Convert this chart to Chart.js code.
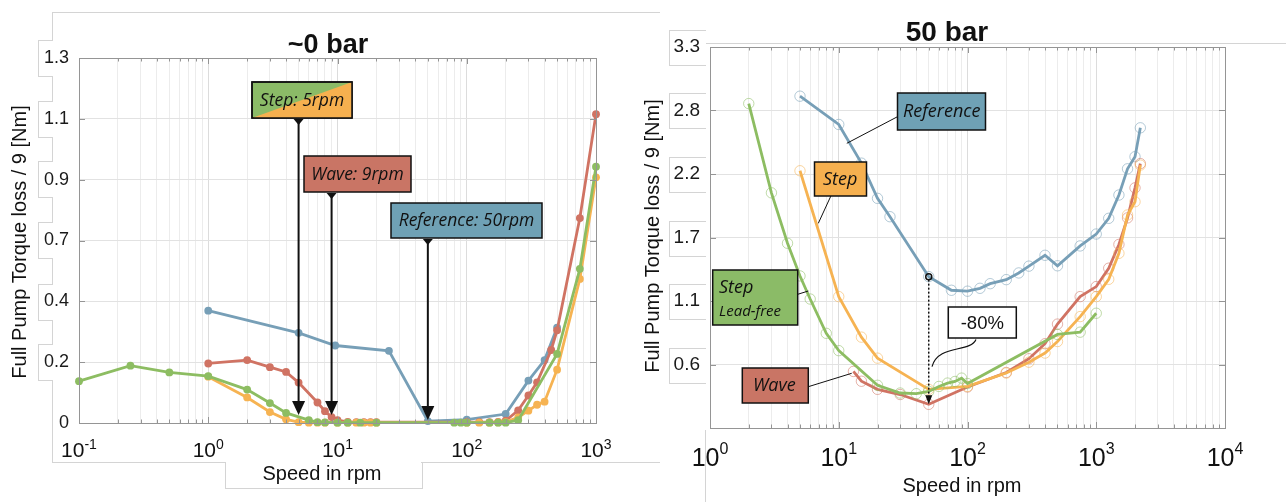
<!DOCTYPE html>
<html>
<head>
<meta charset="utf-8">
<title>Full pump torque loss vs speed</title>
<script src="https://cdn.jsdelivr.net/npm/chart.js@4"></script>
<style>
  body { margin: 0; background: #fff; width: 1286px; height: 502px; overflow: hidden; position: relative; }
  canvas { position: absolute; top: 0; z-index: 1; }
  #chart0 { left: 0; }
  #chart50 { left: 620px; }
  .rule { position: absolute; background: #d4d4d4; z-index: 0; }
  .patch { position: absolute; background: #fff; border: 1px solid #d4d4d4; z-index: 0; }
  .patch.l { border-right: none; }
  .patch.t { border-top: none; }
</style>
</head>
<body>
<!-- pale frames around the pasted axis labels -->
<div class="rule" style="left:52px;top:12px;width:608px;height:1px"></div>
<div class="rule" style="left:52px;top:12px;width:1px;height:450px"></div>
<div class="patch l" style="left:38px;top:40px;width:14px;height:35px"></div>
<div class="patch l" style="left:38px;top:101px;width:14px;height:35px"></div>
<div class="patch l" style="left:38px;top:161px;width:14px;height:35px"></div>
<div class="patch l" style="left:38px;top:222px;width:14px;height:35px"></div>
<div class="patch l" style="left:38px;top:284px;width:14px;height:35px"></div>
<div class="patch l" style="left:38px;top:344px;width:14px;height:35px"></div>
<div class="rule" style="left:52px;top:462px;width:173px;height:1px"></div>
<div class="patch t" style="left:225px;top:462px;width:196px;height:26px"></div>
<div class="rule" style="left:421px;top:462px;width:239px;height:1px"></div>
<div class="rule" style="left:706px;top:43px;width:580px;height:1px"></div>
<div class="patch l" style="left:669px;top:30px;width:36px;height:34px"></div>
<div class="patch l" style="left:669px;top:93px;width:36px;height:34px"></div>
<div class="patch l" style="left:669px;top:157px;width:36px;height:34px"></div>
<div class="patch l" style="left:669px;top:221px;width:36px;height:34px"></div>
<div class="patch l" style="left:669px;top:284px;width:36px;height:34px"></div>
<div class="patch l" style="left:669px;top:348px;width:36px;height:34px"></div>
<div class="rule" style="left:705px;top:430px;width:1px;height:72px"></div>

<canvas id="chart0" width="620" height="502"></canvas>
<canvas id="chart50" width="666" height="502"></canvas>

<script>
// ~0 bar, filled markers
const speedRef0 = [1, 5, 9.6, 25, 50, 100, 200, 300, 400, 500];
const lossRef0 = [0.400, 0.321, 0.276, 0.257, 0.007, 0.012, 0.032, 0.151, 0.224, 0.340];
const speedWave0 = [1, 2, 3, 4, 5, 7, 8, 9, 10, 12, 14, 16, 18, 20, 100, 125, 150, 175, 200, 250, 300, 350, 450, 500, 750, 1000];
const lossWave0 = [0.212, 0.224, 0.199, 0.182, 0.144, 0.073, 0.042, 0.021, 0.010, 0.004, 0.003, 0.003, 0.003, 0.003, 0.003, 0.003, 0.003, 0.004, 0.008, 0.045, 0.098, 0.145, 0.260, 0.330, 0.730, 1.100];
const speedStep0 = [1, 2, 3, 4, 5, 6, 7, 8, 10, 12, 14, 16, 18, 20, 100, 125, 150, 175, 200, 250, 300, 350, 400, 500, 750, 1000];
const lossStep0 = [0.165, 0.091, 0.039, 0.013, 0.003, 0.001, 0.001, 0.001, 0.001, 0.001, 0.001, 0.001, 0.001, 0.001, 0.001, 0.001, 0.001, 0.002, 0.003, 0.020, 0.044, 0.065, 0.076, 0.190, 0.513, 0.875];
const speedFree0 = [0.1, 0.25, 0.5, 1, 2, 3, 4, 6, 7, 8, 10, 12, 15, 20, 80, 90, 100, 150, 175, 200, 250, 500, 750, 1000];
const lossFree0 = [0.149, 0.204, 0.180, 0.167, 0.119, 0.071, 0.036, 0.010, 0.003, 0.002, 0.001, 0.001, 0.001, 0.001, 0.001, 0.001, 0.001, 0.001, 0.001, 0.001, 0.010, 0.246, 0.549, 0.913];

// 50 bar, open markers
const speedRef50 = [5, 10, 15, 20, 25, 50, 75, 100, 125, 150, 200, 250, 300, 400, 500, 750, 1000, 1250, 1500, 1750, 2000, 2200];
const lossRef50 = [2.874, 2.629, 2.294, 1.989, 1.830, 1.311, 1.193, 1.185, 1.210, 1.250, 1.285, 1.343, 1.402, 1.496, 1.405, 1.577, 1.680, 1.816, 2.018, 2.245, 2.350, 2.600];
const speedWave50 = [13, 15, 20, 30, 50, 100, 200, 300, 400, 500, 750, 1000, 1250, 1500, 1750, 2000, 2200];
const lossWave50 = [0.490, 0.405, 0.335, 0.290, 0.205, 0.355, 0.481, 0.600, 0.730, 0.900, 1.138, 1.225, 1.384, 1.590, 1.820, 2.080, 2.290];
const speedStep50 = [5, 10, 15, 20, 50, 100, 200, 300, 400, 500, 750, 1000, 1250, 1500, 1750, 2000, 2200];
const lossStep50 = [2.228, 1.138, 0.787, 0.605, 0.335, 0.360, 0.476, 0.570, 0.649, 0.749, 0.965, 1.138, 1.288, 1.513, 1.845, 1.960, 2.277];
const speedFree50 = [2, 3, 4, 5, 6, 8, 10, 20, 30, 40, 50, 60, 70, 80, 90, 100, 500, 750, 1000];
const lossFree50 = [2.810, 2.037, 1.600, 1.317, 1.117, 0.820, 0.670, 0.370, 0.303, 0.297, 0.317, 0.360, 0.389, 0.403, 0.432, 0.385, 0.810, 0.830, 0.994];

// y tick labels (six equal steps up to the axis maximum)
const yMax0 = 1.3;
const yLabels0 = ['0', '0.2', '0.4', '0.7', '0.9', '1.1', '1.3'];
const yMax50 = 3.3;
const yLabels50 = ['', '0.6', '1.1', '1.7', '2.2', '2.8', '3.3'];

// speeds pointed at in the ~0 bar panel
const arrowSpeeds0 = [5, 9, 50];
const arrowLabels0 = ['Step: 5rpm', 'Wave: 9rpm', 'Reference: 50rpm'];
const dropSpeed50 = 50;
const dropLabel50 = '-80%';

const BLUE = '#779fb7', RED = '#d07363', ORANGE = '#f6b352', GREEN = '#8dbd62';
const BOX_BLUE = '#6fa1b5', BOX_RED = '#c97565', BOX_ORANGE = '#f6b04f', BOX_GREEN = '#8bbb67';
const SANS = '"Liberation Sans", Arial, sans-serif';
const ITAL = '"Open Sans", "Noto Sans", sans-serif';

function fade(hex, a) {
  const n = parseInt(hex.slice(1), 16);
  return 'rgba(' + (n >> 16) + ',' + ((n >> 8) & 255) + ',' + (n & 255) + ',' + a + ')';
}

function series(label, xs, ys, color, order, open) {
  return {
    label: label,
    order: order,
    data: xs.map((x, i) => ({ x: x, y: ys[i] })),
    borderColor: color,
    borderWidth: 2.8,
    pointRadius: open ? 5.2 : 3.9,
    pointBackgroundColor: open ? 'rgba(0,0,0,0)' : color,
    pointBorderColor: open ? fade(color, 0.55) : color,
    pointBorderWidth: open ? 1 : 0,
    tension: 0,
    clip: false
  };
}

// 1..9 x 10^n ticks, decades flagged as major
function logTicks(lo, hi) {
  const out = [];
  for (let e = Math.round(Math.log10(lo)); e <= Math.round(Math.log10(hi)); e++) {
    for (let m = 1; m <= 9; m++) {
      const v = m * Math.pow(10, e);
      if (v >= lo * 0.999 && v <= hi * 1.001) out.push({ value: v, major: m === 1 });
    }
  }
  return out;
}

function gridColor(c) {
  return c.tick && c.tick.major ? '#dcdcdc' : '#ececec';
}

// MATLAB-like box: inward ticks, 10^n labels, titles
const axesLook = {
  id: 'axesLook',
  afterDraw(chart, args, o) {
    const ctx = chart.ctx, a = chart.chartArea;
    const xs = chart.scales.x, ys = chart.scales.y;
    ctx.save();
    ctx.strokeStyle = '#959595';
    ctx.lineWidth = 1;
    ctx.beginPath();
    xs.ticks.forEach(t => {
      const px = Math.round(xs.getPixelForValue(t.value)) + 0.5;
      const len = t.major ? 6 : 3.5;
      ctx.moveTo(px, a.bottom); ctx.lineTo(px, a.bottom - len);
      ctx.moveTo(px, a.top); ctx.lineTo(px, a.top + len);
    });
    ys.ticks.forEach(t => {
      const py = Math.round(ys.getPixelForValue(t.value)) + 0.5;
      ctx.moveTo(a.left, py); ctx.lineTo(a.left + 6, py);
      ctx.moveTo(a.right, py); ctx.lineTo(a.right - 6, py);
    });
    ctx.stroke();
    ctx.strokeRect(Math.round(a.left) + 0.5, Math.round(a.top) + 0.5,
      Math.round(a.right - a.left), Math.round(a.bottom - a.top));

    // decade labels
    ctx.fillStyle = '#111';
    ctx.textBaseline = 'alphabetic';
    ctx.textAlign = 'left';
    xs.ticks.filter(t => t.major).forEach(t => {
      const px = xs.getPixelForValue(t.value);
      const exp = String(Math.round(Math.log10(t.value)));
      ctx.font = o.baseSize + 'px ' + SANS;
      const wb = ctx.measureText('10').width;
      ctx.font = o.expSize + 'px ' + SANS;
      const we = ctx.measureText(exp).width;
      const left = px - (wb + we) / 2;
      ctx.font = o.baseSize + 'px ' + SANS;
      ctx.fillText('10', left, o.tickY);
      ctx.font = o.expSize + 'px ' + SANS;
      ctx.fillText(exp, left + wb, o.tickY - o.expRise);
    });

    ctx.textAlign = 'center';
    ctx.font = 'bold ' + o.titleSize + 'px ' + SANS;
    ctx.fillText(o.title, o.titleX, o.titleY);
    ctx.font = '20px ' + SANS;
    ctx.fillText('Speed in rpm', o.xTitleX, o.xTitleY);
    ctx.translate(o.yTitleX, o.yTitleY);
    ctx.rotate(-Math.PI / 2);
    ctx.textBaseline = 'middle';
    ctx.fillText('Full Pump Torque loss / 9 [Nm]', 0, 0);
    ctx.restore();
  }
};

function labelBox(ctx, x, y, w, h, fill) {
  ctx.fillStyle = fill;
  ctx.fillRect(x, y, w, h);
  ctx.strokeStyle = '#111';
  ctx.lineWidth = 1.5;
  ctx.strokeRect(x, y, w, h);
}

// arrows at the speed where each curve first reaches zero
const arrows0 = {
  id: 'arrows0',
  afterDraw(chart) {
    const ctx = chart.ctx, xs = chart.scales.x, ys = chart.scales.y;
    const zeroY = ys.getPixelForValue(0);
    const boxes = [
      { x: 252, y: 82, w: 100, h: 36, gap: 8 },
      { x: 304, y: 156, w: 107, h: 36, gap: 8 },
      { x: 391, y: 203, w: 151, h: 35, gap: 3 }
    ];
    const fills = [BOX_GREEN, BOX_RED, BOX_BLUE];
    ctx.save();
    arrowSpeeds0.forEach((s, i) => {
      const b = boxes[i];
      const x = xs.getPixelForValue(s);
      labelBox(ctx, b.x, b.y, b.w, b.h, fills[i]);
      if (i === 0) {
        // split fill: lead-free green and standard orange
        ctx.fillStyle = BOX_ORANGE;
        ctx.beginPath();
        ctx.moveTo(b.x, b.y + b.h);
        ctx.lineTo(b.x + b.w, b.y);
        ctx.lineTo(b.x + b.w, b.y + b.h);
        ctx.closePath();
        ctx.fill();
        ctx.strokeRect(b.x, b.y, b.w, b.h);
      }
      ctx.fillStyle = '#111';
      ctx.font = 'italic 17.5px ' + ITAL;
      ctx.textAlign = 'center';
      ctx.textBaseline = 'middle';
      ctx.fillText(arrowLabels0[i], b.x + b.w / 2, b.y + b.h / 2 + 1);

      const top = b.y + b.h + 1;
      const tip = zeroY - b.gap;
      ctx.beginPath();
      ctx.moveTo(x - 5, top); ctx.lineTo(x + 5, top); ctx.lineTo(x, top + 6);
      ctx.closePath();
      ctx.fill();
      ctx.strokeStyle = '#111';
      ctx.lineWidth = 2;
      ctx.beginPath();
      ctx.moveTo(x, top);
      ctx.lineTo(x, tip - 12);
      ctx.stroke();
      ctx.beginPath();
      ctx.moveTo(x - 6.5, tip - 14); ctx.lineTo(x + 6.5, tip - 14); ctx.lineTo(x, tip);
      ctx.closePath();
      ctx.fill();
    });
    ctx.restore();
  }
};

// series labels and the drop marker at 50 rpm
const notes50 = {
  id: 'notes50',
  afterDraw(chart) {
    const ctx = chart.ctx, xs = chart.scales.x, ys = chart.scales.y;
    ctx.save();
    ctx.strokeStyle = '#111';
    ctx.lineWidth = 1;
    const leaders = [[277.5, 116.7, 226.8, 143.3], [211, 195.7, 198.3, 223.3],
      [177.7, 294.3, 188.3, 291], [188.3, 386.7, 231.7, 373.3]];
    leaders.forEach(l => {
      ctx.beginPath(); ctx.moveTo(l[0], l[1]); ctx.lineTo(l[2], l[3]); ctx.stroke();
    });

    labelBox(ctx, 277.5, 93, 88, 37, BOX_BLUE);
    labelBox(ctx, 194.5, 162, 52, 34, BOX_ORANGE);
    labelBox(ctx, 92.7, 270, 85, 55, BOX_GREEN);
    labelBox(ctx, 122.3, 368, 66, 35, BOX_RED);
    ctx.fillStyle = '#111';
    ctx.textAlign = 'left';
    ctx.textBaseline = 'middle';
    ctx.font = 'italic 18px ' + ITAL;
    ctx.fillText('Reference', 283, 112);
    ctx.fillText('Step', 203, 180);
    ctx.fillText('Step', 99, 288);
    ctx.fillText('Wave', 133, 386);
    ctx.font = 'italic 15px ' + ITAL;
    ctx.fillText('Lead-free', 99, 312);

    // dotted drop from Reference to Wave at the same speed
    const x = xs.getPixelForValue(dropSpeed50);
    const yTop = ys.getPixelForValue(lossRef50[speedRef50.indexOf(dropSpeed50)]);
    const yBot = ys.getPixelForValue(lossWave50[speedWave50.indexOf(dropSpeed50)]);
    ctx.lineWidth = 1.5;
    ctx.setLineDash([2, 2]);
    ctx.beginPath(); ctx.moveTo(x, yTop + 3); ctx.lineTo(x, yBot - 7); ctx.stroke();
    ctx.setLineDash([]);
    ctx.beginPath(); ctx.arc(x, yTop, 3, 0, Math.PI * 2); ctx.stroke();
    ctx.beginPath();
    ctx.moveTo(x - 3.5, yBot - 9); ctx.lineTo(x + 3.5, yBot - 9); ctx.lineTo(x, yBot);
    ctx.closePath(); ctx.fill();

    ctx.lineWidth = 1.2;
    ctx.beginPath();
    ctx.moveTo(356, 339.5);
    ctx.bezierCurveTo(350, 353, 318, 344, 312, 366.7);
    ctx.stroke();
    labelBox(ctx, 328.3, 307, 68, 31, '#fff');
    ctx.fillStyle = '#111';
    ctx.textAlign = 'center';
    ctx.font = '18.5px ' + SANS;
    ctx.fillText(dropLabel50, 362.3, 323.5);
    ctx.restore();
  }
};

function axisOptions(lo, hi, yMax, labels, yWidth, xHeight, yFont) {
  return {
    x: {
      type: 'logarithmic', min: lo, max: hi,
      afterBuildTicks: s => { s.ticks = logTicks(lo, hi); },
      afterFit: s => { s.height = xHeight; },
      ticks: { display: false },
      grid: { color: gridColor, lineWidth: 1, drawTicks: false },
      border: { display: false }
    },
    y: {
      type: 'linear', min: 0, max: yMax,
      afterBuildTicks: s => { s.ticks = labels.map((_, i) => ({ value: i * yMax / 6, major: true })); },
      afterFit: s => { s.width = yWidth; },
      ticks: {
        callback: (v, i) => labels[i],
        color: '#1a1a1a',
        font: { family: SANS, size: yFont },
        padding: 10
      },
      grid: { color: '#e2e2e2', lineWidth: 1, drawTicks: false },
      border: { display: false }
    }
  };
}

new Chart(document.getElementById('chart0'), {
  type: 'line',
  data: {
    datasets: [
      series('Reference', speedRef0, lossRef0, BLUE, 4, false),
      series('Wave', speedWave0, lossWave0, RED, 3, false),
      series('Step', speedStep0, lossStep0, ORANGE, 2, false),
      series('Step lead-free', speedFree0, lossFree0, GREEN, 1, false)
    ]
  },
  options: {
    responsive: false,
    animation: false,
    layout: { padding: { left: 0, top: 58, right: 24, bottom: 0 } },
    plugins: {
      legend: { display: false },
      tooltip: { enabled: false },
      axesLook: {
        title: '~0 bar', titleSize: 27, titleX: 328, titleY: 53,
        xTitleX: 322, xTitleY: 480, yTitleX: 20, yTitleY: 242,
        tickY: 457, baseSize: 21, expSize: 14, expRise: 8
      }
    },
    scales: axisOptions(0.1, 1000, yMax0, yLabels0, 79, 79, 18)
  },
  plugins: [axesLook, arrows0]
});

new Chart(document.getElementById('chart50'), {
  type: 'line',
  data: {
    datasets: [
      series('Reference', speedRef50, lossRef50, BLUE, 4, true),
      series('Wave', speedWave50, lossWave50, RED, 3, true),
      series('Step', speedStep50, lossStep50, ORANGE, 2, true),
      series('Step lead-free', speedFree50, lossFree50, GREEN, 1, true)
    ]
  },
  options: {
    responsive: false,
    animation: false,
    layout: { padding: { left: 0, top: 47, right: 61, bottom: 0 } },
    plugins: {
      legend: { display: false },
      tooltip: { enabled: false },
      axesLook: {
        title: '50 bar', titleSize: 28, titleX: 327, titleY: 41,
        xTitleX: 342, xTitleY: 492, yTitleX: 33, yTitleY: 236,
        tickY: 466, baseSize: 25, expSize: 16, expRise: 12
      }
    },
    scales: axisOptions(1, 10000, yMax50, yLabels50, 90, 74, 19)
  },
  plugins: [axesLook, notes50]
});
</script>
</body>
</html>
